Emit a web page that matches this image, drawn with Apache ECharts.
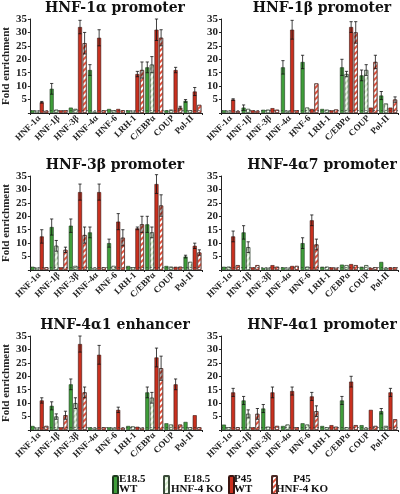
<!DOCTYPE html>
<html><head><meta charset="utf-8">
<script src="https://cdn.jsdelivr.net/npm/echarts@6/dist/echarts.min.js"></script>
<style>html,body{margin:0;padding:0;background:#fff}#c{width:400px;height:494px}</style>
</head><body><div id="c"></div>
<script>
const categories = ['HNF-1α','HNF-1β','HNF-3β','HNF-4α','HNF-6','LRH-1','C/EBPα','COUP','Pol-II'];
const seriesNames = ['E18.5 WT','E18.5 HNF-4 KO','P45 WT','P45 HNF-4 KO'];
const legendLines = [['E18.5','WT'],['E18.5','HNF-4 KO'],['P45','WT'],['P45','HNF-4 KO']];
const panelTitles = ['HNF-1α promoter','HNF-1β promoter','HNF-3β promoter','HNF-4α7 promoter','HNF-4α1 enhancer','HNF-4α1 promoter'];
const yMin = 0, yMax = 35, yInterval = 5;

// Panel 1: HNF-1α promoter
const p1_E18WT = [1, 9, 2, 16, 1.5, 1, 17, 1, 4.5];
const p1_E18KO = [0.8, 1.2, 1.5, 0.5, 1, 0.8, 18, 1.2, 1];
const p1_P45WT = [4, 1, 32, 28, 1.5, 14.5, 31, 16, 8];
const p1_P45KO = [0.8, 1, 26, 1, 1, 16, 28, 2, 3];
const p1_E18WT_err = [0, 2, 0, 2, 0, 0, 2, 0, 0.5];
const p1_E18KO_err = [0, 0, 0, 0, 0, 0, 3, 0, 0];
const p1_P45WT_err = [0.3, 0, 2.5, 3, 0, 1, 4, 1, 1.5];
const p1_P45KO_err = [0, 0, 4, 0, 0, 3, 3, 0.5, 0];

// Panel 2: HNF-1β promoter
const p2_E18WT = [1, 2, 1.2, 17, 19, 1.5, 17, 14, 6.5];
const p2_E18KO = [0.8, 1.5, 1.2, 0.8, 2, 1.2, 14.5, 16, 3.5];
const p2_P45WT = [5, 1, 1.8, 31, 1.5, 1, 32, 2, 2];
const p2_P45KO = [0.7, 0.8, 1.2, 1, 11, 1.3, 30, 19, 5];
const p2_E18WT_err = [0, 1, 0, 2.5, 2.5, 0, 3, 2, 1.5];
const p2_E18KO_err = [0, 0, 0, 0, 0, 0, 1, 2, 0];
const p2_P45WT_err = [0.3, 0, 0, 3.5, 0, 0, 2, 0, 0];
const p2_P45KO_err = [0, 0, 0, 0, 0, 0, 4, 2.5, 1];

// Panel 3: HNF-3β promoter
const p3_E18WT = [1.2, 16, 16.5, 14, 10, 1.5, 17, 1.5, 5];
const p3_E18KO = [0.8, 9, 1.5, 0.8, 1.5, 1, 14, 1.2, 3];
const p3_P45WT = [12.5, 1, 29, 29, 18, 15.5, 32, 1.2, 9];
const p3_P45KO = [1, 7.5, 13, 1, 12, 17, 24, 1.2, 6.5];
const p3_E18WT_err = [0, 3, 2.5, 2, 1.5, 0, 3, 0, 0.5];
const p3_E18KO_err = [0, 2, 0, 0, 0, 0, 2, 0, 0];
const p3_P45WT_err = [2.5, 0, 3, 3, 3, 0.5, 3.5, 0, 1];
const p3_P45KO_err = [0, 1, 3, 0, 3, 3, 4, 0, 1];

// Panel 4: HNF-4α7 promoter
const p4_E18WT = [1.2, 14, 0.8, 1, 10, 1.2, 2, 1.2, 3];
const p4_E18KO = [1.2, 8.5, 0.8, 0.8, 1.2, 1.2, 1.8, 1.8, 0.8];
const p4_P45WT = [12.5, 1, 1.8, 1.5, 18.5, 1, 2.2, 0.8, 1];
const p4_P45KO = [1.8, 1.8, 1.2, 1.5, 9.5, 0.8, 1.8, 1, 1];
const p4_E18WT_err = [0, 2.5, 0, 0, 2, 0, 0, 0, 0];
const p4_E18KO_err = [0, 2, 0, 0, 0, 0, 0, 0, 0];
const p4_P45WT_err = [2, 0, 0, 0, 2, 0, 0, 0, 0];
const p4_P45KO_err = [0, 0, 0, 0, 2, 0, 0, 0, 0];

// Panel 5: HNF-4α1 enhancer
const p5_E18WT = [1.5, 9, 17, 1, 1, 1.5, 14, 2.5, 3];
const p5_E18KO = [0.8, 5, 10, 0.8, 0.8, 1.3, 12, 2, 1];
const p5_P45WT = [11, 1, 32, 28, 7.5, 1.2, 27, 17, 5.5];
const p5_P45KO = [1.5, 5.5, 14, 1, 0.8, 0.8, 23, 2, 1];
const p5_E18WT_err = [0, 1.5, 2, 0, 0, 0, 2, 0, 0];
const p5_E18KO_err = [0, 1, 2, 0, 0, 0, 2, 0, 0];
const p5_P45WT_err = [1, 0, 3, 3.5, 1, 0, 3.5, 2, 0];
const p5_P45KO_err = [0, 1.5, 2, 0, 0, 0, 4.5, 0, 0];

// Panel 6: HNF-4α1 promoter
const p6_E18WT = [2, 11, 8, 1.5, 2.5, 1.5, 11, 1.8, 7];
const p6_E18KO = [1, 6, 1.2, 2, 2, 1, 1, 0.8, 1.5];
const p6_P45WT = [14, 1, 14, 14.5, 12.5, 1.8, 18, 7.5, 14];
const p6_P45KO = [1, 6, 1.5, 1, 7, 1.2, 1.8, 1.5, 4];
const p6_E18WT_err = [0, 1.5, 1.5, 0, 0, 0, 1.5, 0, 1];
const p6_E18KO_err = [0, 1.5, 0, 0, 0, 0, 0, 0, 0];
const p6_P45WT_err = [1.5, 0, 2, 1.5, 1.5, 0, 2, 0, 1.5];
const p6_P45KO_err = [0, 2, 0, 0, 2, 0, 0, 0, 0];

const panels = [
  [p1_E18WT, p1_E18KO, p1_P45WT, p1_P45KO, [p1_E18WT_err, p1_E18KO_err, p1_P45WT_err, p1_P45KO_err]],
  [p2_E18WT, p2_E18KO, p2_P45WT, p2_P45KO, [p2_E18WT_err, p2_E18KO_err, p2_P45WT_err, p2_P45KO_err]],
  [p3_E18WT, p3_E18KO, p3_P45WT, p3_P45KO, [p3_E18WT_err, p3_E18KO_err, p3_P45WT_err, p3_P45KO_err]],
  [p4_E18WT, p4_E18KO, p4_P45WT, p4_P45KO, [p4_E18WT_err, p4_E18KO_err, p4_P45WT_err, p4_P45KO_err]],
  [p5_E18WT, p5_E18KO, p5_P45WT, p5_P45KO, [p5_E18WT_err, p5_E18KO_err, p5_P45WT_err, p5_P45KO_err]],
  [p6_E18WT, p6_E18KO, p6_P45WT, p6_P45KO, [p6_E18WT_err, p6_E18KO_err, p6_P45WT_err, p6_P45KO_err]]
];

const FONT = 'Liberation Serif, Times New Roman, serif';
const TFONT = 'DejaVu Serif, serif';
const BAR_W = 4, GAP = 0.15;
const hatch = (c) => ({symbol: 'rect', symbolSize: 1, dashArrayX: [1, 0], dashArrayY: [1.2, 1.6], rotation: -Math.PI / 4, color: c});
const styles = [
  {color: '#3f9e3a', borderColor: '#1e3a1e', borderWidth: 0.6},
  {color: '#d2ecc9', borderColor: '#3a4a3a', borderWidth: 0.6, decal: hatch('#f7fcf5')},
  {color: '#c9301f', borderColor: '#3a1510', borderWidth: 0.6},
  {color: '#ffffff', borderColor: '#4a2a25', borderWidth: 0.6, decal: hatch('#e0533f')}
];

const gridPos = [
  {left: 25, top: 19}, {left: 221, top: 19},
  {left: 25, top: 176}, {left: 221, top: 176},
  {left: 25, top: 336}, {left: 221, top: 336}
];

const grid = [], xAxis = [], yAxis = [], series = [], title = [];
gridPos.forEach((g, i) => {
  grid.push({left: g.left, top: g.top, width: 177, height: 94});
  title.push({text: panelTitles[i], left: g.left + (i % 2 === 0 ? 90 : 101), top: g.top - 18, textAlign: 'center', padding: 0,
    textStyle: {fontFamily: TFONT, fontWeight: 'bold', fontSize: 14, color: '#111'}});
  xAxis.push({type: 'category', gridIndex: i, data: categories,
    axisLine: {lineStyle: {color: '#222', width: 1}},
    axisTick: {show: true, length: 2, lineStyle: {color: '#222'}},
    axisLabel: {rotate: 45, interval: 0, margin: 4, fontFamily: FONT, fontWeight: 'bold', fontSize: 9, color: '#222'}});
  yAxis.push({type: 'value', gridIndex: i, min: yMin, max: yMax, interval: yInterval,
    name: i % 2 === 0 ? 'Fold enrichment' : '', nameLocation: 'middle', nameGap: 14,
    nameTextStyle: {fontFamily: FONT, fontWeight: 'bold', fontSize: 11, color: '#222'},
    splitLine: {show: false},
    axisLine: {show: true, lineStyle: {color: '#222', width: 1}},
    axisTick: {show: true, length: 2, lineStyle: {color: '#222'}},
    axisLabel: {margin: 3, formatter: v => v === 0 ? '' : v, fontFamily: FONT, fontWeight: 'bold', fontSize: 11, color: '#222'}});
  const p = panels[i];
  for (let s = 0; s < 4; s++) {
    const ser = {name: seriesNames[s], type: 'bar', xAxisIndex: i, yAxisIndex: i,
      data: p[s], barWidth: BAR_W, barGap: (GAP * 100) + '%', itemStyle: styles[s], silent: true};
    if (s === 0) {
      ser.markLine = {silent: true, symbol: 'none', label: {show: false},
        lineStyle: {type: [2, 2], color: '#333', width: 0.6}, data: [{yAxis: 1}]};
    }
    series.push(ser);
  }
  const errData = [];
  for (let s = 0; s < 4; s++) {
    p[4][s].forEach((e, k) => { if (e > 0) errData.push([k, p[s][k], e, s]); });
  }
  series.push({type: 'custom', xAxisIndex: i, yAxisIndex: i, silent: true, z: 5, data: errData,
    renderItem: (params, api) => {
      const k = api.value(0), v = api.value(1), e = api.value(2), s = api.value(3);
      const step = BAR_W * (1 + GAP);
      const off = (s - 1.5) * step;
      const top = api.coord([k, v + e]);
      const bot = api.coord([k, Math.max(0, v - e)]);
      const x = top[0] + off;
      const cw = 1.6;
      const st = {stroke: '#111', lineWidth: 0.8};
      return {type: 'group', children: [
        {type: 'line', shape: {x1: x, y1: top[1], x2: x, y2: bot[1]}, style: st},
        {type: 'line', shape: {x1: x - cw, y1: top[1], x2: x + cw, y2: top[1]}, style: st},
        {type: 'line', shape: {x1: x - cw, y1: bot[1], x2: x + cw, y2: bot[1]}, style: st}
      ]};
    }});
});

// legend icons (library legend) + two-line labels as text
const legendLeft = [112, 163, 228, 271];
const legend = seriesNames.map((n, s) => ({
  data: [n], left: legendLeft[s], top: 475, itemWidth: 5, itemHeight: 18, itemGap: 0, padding: 0,
  selectedMode: false, formatter: () => '', textStyle: {fontSize: 1}
}));
const labelX = [119, 197, 234, 302];
const labelAlign = ['left', 'center', 'left', 'center'];
const graphic = legendLines.map((ln, s) => ({
  type: 'text', x: labelX[s], y: 474,
  style: {text: ln.join('\n'), x: 0, y: 0, fill: '#111', textAlign: labelAlign[s], textVerticalAlign: 'top',
    font: 'bold 11px ' + FONT, lineHeight: 10}
}));

const chart = echarts.init(document.getElementById('c'), null, {renderer: 'canvas'});
chart.setOption({animation: false, backgroundColor: '#fff', title, grid, xAxis, yAxis, series, legend, graphic});
</script></body></html>
